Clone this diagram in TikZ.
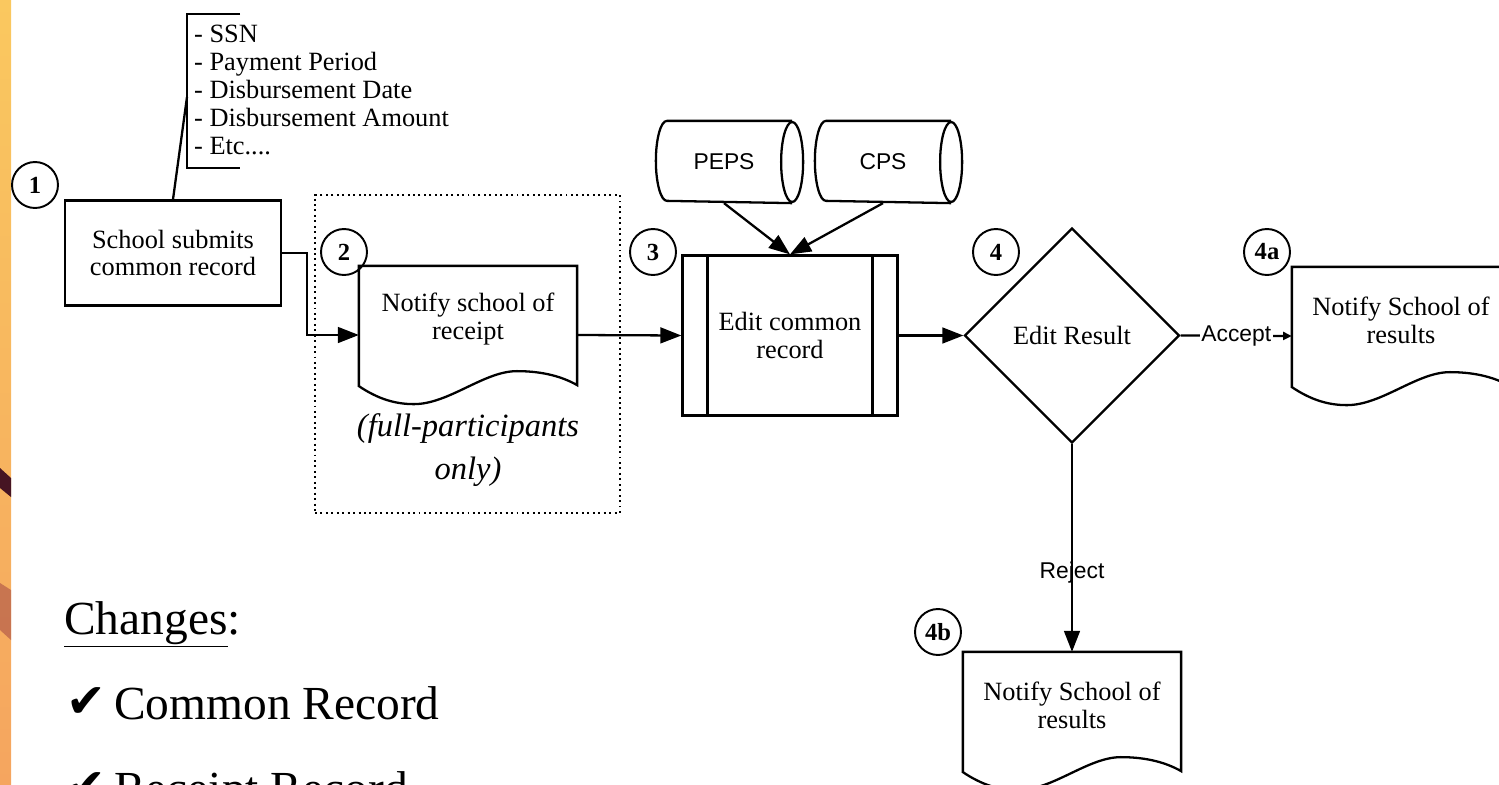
\documentclass[tikz,border=0pt]{standalone}
\usepackage{fontspec}
\setmainfont{Liberation Serif}
\setsansfont{Liberation Sans}
\newfontfamily\checkfont{DejaVu Sans}
\usepackage{xcolor}
\usetikzlibrary{calc, positioning, shapes.geometric, arrows.meta}

\definecolor{stripA}{RGB}{250,200,95}
\definecolor{stripB}{RGB}{255,232,165}
\definecolor{stripC}{RGB}{245,165,95}
\definecolor{stripD}{RGB}{70,20,35}
\definecolor{stripE}{RGB}{170,80,70}

\newcommand\flowfont{\fontsize{15}{15.9}\selectfont}
\newcommand\listfont{\fontsize{27}{30}\selectfont}

% document outline: flat top, wavy bottom
\newcommand\drawdoc[1]{%
  \draw ($(#1.south west)+(0,-18)$) -- (#1.north west) -- (#1.north east) -- ($(#1.south east)+(0,-19)$)
    .. controls ($(#1.south east)+(-14,-27)$) and ($(#1.south west)+(185,-33)$) .. ($(#1.south west)+(158,-33)$)
    .. controls ($(#1.south west)+(125,-33)$) and ($(#1.south west)+(90,0)$) .. ($(#1.south west)+(55,0)$)
    .. controls ($(#1.south west)+(35,0)$) and ($(#1.south west)+(18,-6)$) .. cycle;}

% lying drum: half cap on the left, full cap on the right
\newcommand\drawdrum[1]{%
  \draw ($(#1.north west)+(11,0)$) arc[start angle=90, end angle=270, x radius=0.22cm, y radius=0.8cm]
    -- (#1.south east) (#1.north east) -- ($(#1.north west)+(11,0)$);
  \draw (#1.east) ellipse [x radius=0.22cm, y radius=0.8cm];}

\tikzset{
  numcircle/.style={circle, draw, line width=1.1pt, minimum size=0.92cm, inner sep=0pt,
    font=\fontsize{14}{14}\selectfont\bfseries},
  procbox/.style={rectangle, draw, align=center, font=\flowfont},
  docbox/.style={rectangle, minimum width=4.32cm, minimum height=2.72cm, inner sep=0pt},
  doctext/.style={align=center, font=\flowfont},
  drumbox/.style={rectangle, minimum width=2.68cm, minimum height=1.6cm, inner sep=0pt,
    font=\sffamily\fontsize{13}{13}\selectfont},
  decbox/.style={diamond, draw, aspect=1, minimum width=4.3cm, minimum height=4.3cm,
    inner sep=0pt, font=\flowfont},
  flowarrow/.style={-{Triangle[length=12pt,width=9pt]}},
  sanslabel/.style={font=\sffamily\fontsize{13}{13}\selectfont, inner sep=1pt},
  fieldlist/.style={align=left, anchor=north west, inner sep=0pt, font=\flowfont},
  checkmark/.style={anchor=base west, inner sep=0pt, font=\checkfont\fontsize{27}{27}\selectfont},
}

\begin{document}
\begin{tikzpicture}[x=0.02cm, y=-0.02cm, line width=1.3pt]
  \useasboundingbox (0,0) rectangle (1499,785);
  \clip (0,0) rectangle (1499,785);

  % strip on the left edge
  \shade[top color=stripA, middle color=stripB, bottom color=stripC] (0,0) rectangle (11,785);
  \fill[stripD] (0,468) -- (11,478) -- (11,497) -- (0,488) -- cycle;
  \fill[stripE, opacity=0.6] (0,583) -- (11,590) -- (11,640) -- (0,630) -- cycle;

  % step 1
  \node[numcircle] (n1) at (35,185) {1};
  \node[procbox, minimum width=4.32cm, minimum height=2.1cm] (sub) at (173,253) {School submits\\common record};
  \coordinate (brk) at (187,97);
  \draw (240,14) -- (187,14) -- (187,168) -- (240,168);
  \node[fieldlist] (fields) at (193,24) {- SSN\\- Payment Period\\- Disbursement Date\\- Disbursement Amount\\- Etc....};
  \draw (sub.north) -- (brk);

  % step 2
  \node[draw, dotted, line width=1.1pt, minimum width=6.1cm, minimum height=6.36cm] (grp) at (467.5,354) {};
  \node[numcircle] (n2) at (344,252) {2};
  \node[docbox] (doc2) at (468,335) {};
  \drawdoc{doc2}
  \node[doctext] (t2) at ($(doc2.center)+(0,-16)$) {Notify school of\\receipt};
  \node[align=center, font=\fontsize{18.5}{24}\selectfont\itshape] (part) at (468,450) {(full-participants\\only)};

  % step 3
  \node[numcircle] (n3) at (653,252) {3};
  \node[procbox, minimum width=4.3cm, minimum height=3.2cm] (proc) at (790,335.5) {Edit common\\record};
  \draw ($(proc.north west)+(26,0)$) -- ($(proc.south west)+(26,0)$);
  \draw ($(proc.north east)+(-26,0)$) -- ($(proc.south east)+(-26,0)$);
  \node[drumbox] (peps) at (724,162) {PEPS};
  \node[drumbox] (cps) at (883,162) {CPS};
  \drawdrum{peps}
  \drawdrum{cps}

  % step 4
  \node[numcircle] (n4) at (996,252) {4};
  \node[decbox] (dec) at (1072,335.5) {Edit Result};
  \node[numcircle] (n4a) at (1267,252) {4a};
  \node[docbox] (doc4a) at (1401,336) {};
  \drawdoc{doc4a}
  \node[doctext] (t4a) at ($(doc4a.center)+(0,-16)$) {Notify School of\\results};
  \node[numcircle] (n4b) at (938,632) {4b};
  \node[docbox] (doc4b) at (1072,721) {};
  \drawdoc{doc4b}
  \node[doctext] (t4b) at ($(doc4b.center)+(0,-16)$) {Notify School of\\results};

  % connectors
  \draw[flowarrow] (sub.east) -- ++(25,0) |- (doc2.west);
  \draw[flowarrow] (doc2.east) -- (proc.west);
  \draw[flowarrow] (peps.south) -- (proc.north);
  \draw[flowarrow] (cps.south) -- (proc.north);
  \draw[flowarrow] (proc.east) -- (dec.west);
  \draw[-{Triangle[length=5pt,width=4.5pt]}] (dec.east) -- node[sanslabel, fill=white] {Accept} (doc4a.west);
  \draw[flowarrow] (dec.south) -- node[sanslabel, pos=0.62] {Reject} (doc4b.north);

  % list of changes
  \node[anchor=base west, inner sep=0pt, font=\listfont] (chg) at (63,634) {\underline{Changes}:};
  \node[checkmark] (ck1) at (65,717) {✔};
  \node[anchor=base west, inner sep=0pt, font=\listfont] (it1) at (113,719) {Common Record};
  \node[checkmark] (ck2) at (65,802) {✔};
  \node[anchor=base west, inner sep=0pt, font=\listfont] (it2) at (113,804) {Receipt Record};
\end{tikzpicture}
\end{document}
